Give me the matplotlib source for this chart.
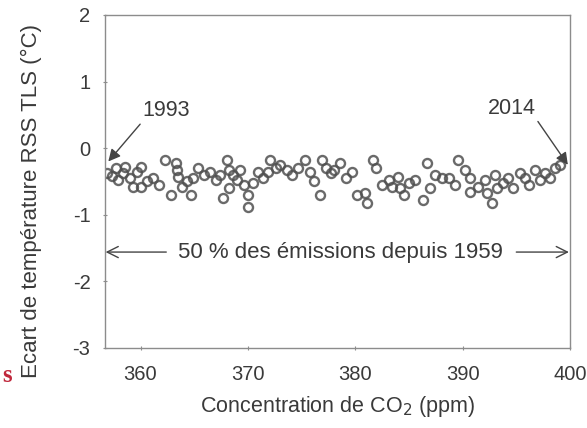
import matplotlib.pyplot as plt

plt.rcParams['font.family'] = ['Liberation Sans', 'DejaVu Sans']

# CO2 concentration (ppm) and RSS TLS anomaly (degC)
co2 = [356.9, 357.3, 357.7, 357.9, 358.4, 358.6, 359.0, 359.3, 359.7, 360.0,
       360.0, 360.6, 361.2, 361.7, 362.3, 362.8, 363.3, 363.4, 363.5, 363.9,
       364.3, 364.7, 364.9, 365.4, 365.9, 366.5, 367.0, 367.4, 367.7, 368.1,
       368.2, 368.2, 368.6, 369.0, 369.3, 369.6, 370.0, 370.0, 370.5, 370.9,
       371.4, 371.9, 372.1, 372.6, 373.0, 373.6, 374.1, 374.7, 375.3, 375.8,
       376.2, 376.7, 376.9, 377.3, 377.7, 378.0, 378.6, 379.1, 379.7, 380.2,
       380.9, 381.1, 381.7, 381.9, 382.5, 383.1, 383.4, 384.0, 384.2, 384.5,
       385.0, 385.6, 386.3, 386.7, 387.0, 387.4, 388.1, 388.7, 389.3, 389.6,
       390.2, 390.7, 390.7, 391.4, 392.1, 392.3, 392.7, 393.0, 393.2, 393.8,
       394.2, 394.7, 395.3, 395.8, 396.2, 396.7, 397.2, 397.7, 398.1, 398.6,
       399.1]
anomaly = [-0.38, -0.42, -0.30, -0.48, -0.38, -0.29, -0.45, -0.59, -0.36, -0.29,
           -0.59, -0.50, -0.45, -0.56, -0.18, -0.71, -0.23, -0.33, -0.44, -0.59,
           -0.50, -0.71, -0.45, -0.30, -0.40, -0.36, -0.48, -0.41, -0.75, -0.18,
           -0.33, -0.60, -0.40, -0.48, -0.33, -0.55, -0.71, -0.89, -0.53, -0.36,
           -0.45, -0.36, -0.18, -0.30, -0.26, -0.33, -0.41, -0.30, -0.18, -0.36,
           -0.50, -0.71, -0.18, -0.30, -0.38, -0.33, -0.23, -0.45, -0.36, -0.71,
           -0.68, -0.83, -0.18, -0.30, -0.56, -0.48, -0.59, -0.44, -0.60, -0.71,
           -0.52, -0.48, -0.78, -0.23, -0.60, -0.41, -0.45, -0.45, -0.56, -0.18,
           -0.33, -0.45, -0.66, -0.59, -0.48, -0.68, -0.83, -0.41, -0.60, -0.53,
           -0.45, -0.60, -0.38, -0.45, -0.55, -0.33, -0.48, -0.38, -0.45, -0.30,
           -0.26]

xticks = [360, 370, 380, 390, 400]
yticks = [-3, -2, -1, 0, 1, 2]

txt = '#3a3a3a'
edge = '#8c8c8c'

fig = plt.figure(figsize=(5.87, 4.28), dpi=100)
ax = fig.add_axes([0.179, 0.187, 0.792, 0.778])

ax.plot(co2, anomaly, 'o', mfc='none', mec='#505050', ms=6.5, mew=1.7, alpha=0.85)

ax.set_xlim(356.7, 400)
ax.set_ylim(-3, 2)
ax.set_xticks(xticks)
ax.set_yticks(yticks)
ax.set_yticklabels([str(v) for v in yticks])
ax.tick_params(direction='inout', length=3, width=0.8, color=edge,
               labelsize=14.5, labelcolor=txt)
ax.tick_params(axis='x', pad=11)
ax.tick_params(axis='y', pad=9)
for s in ax.spines.values():
    s.set_color(edge)
    s.set_linewidth(1.0)

ax.set_xlabel('Concentration de CO$_2$ (ppm)', fontsize=15.5, color=txt, labelpad=7)
ax.set_ylabel('Ecart de température RSS TLS (°C)', fontsize=16, color=txt)
ax.yaxis.set_label_coords(-0.135, 0.44)

arw = dict(arrowstyle='-|>', color='#444444', lw=1.0, mutation_scale=18,
           shrinkA=0, shrinkB=0)
ax.annotate('1993', xy=(357.0, -0.2), xytext=(362.4, 0.56), fontsize=15.5,
            color=txt, ha='center', va='center',
            arrowprops=dict(arw, relpos=(0.0, 0.0)))
ax.annotate('2014', xy=(399.8, -0.25), xytext=(394.6, 0.6), fontsize=15.5,
            color=txt, ha='center', va='center',
            arrowprops=dict(arw, relpos=(1.0, 0.0)))

harw = dict(arrowstyle='->', color='#444444', lw=1.0, mutation_scale=20,
            shrinkA=0, shrinkB=0)
ax.annotate('', xy=(356.75, -1.56), xytext=(362.4, -1.56), arrowprops=harw)
ax.annotate('', xy=(399.9, -1.56), xytext=(395.0, -1.56), arrowprops=harw)
ax.text(378.6, -1.56, '50 % des émissions depuis 1959', fontsize=16,
        color=txt, ha='center', va='center')

fig.text(0.004, 0.122, 's', fontsize=18, color='#c0283c', family='Liberation Serif',
         fontweight='bold', ha='left', va='center')

fig.savefig('out.png', dpi=100)
